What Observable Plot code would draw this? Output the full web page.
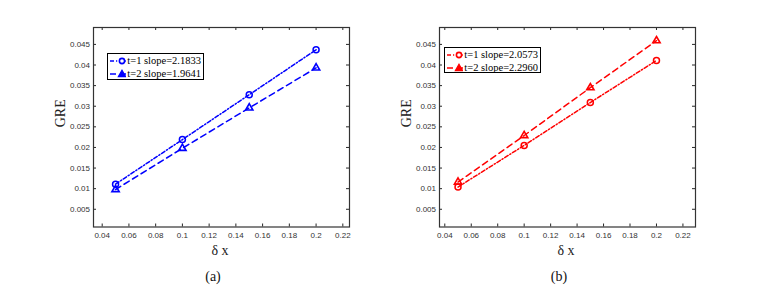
<!DOCTYPE html>
<html>
<head>
<meta charset="utf-8">
<script src="https://cdn.jsdelivr.net/npm/d3@7"></script>
<script src="https://cdn.jsdelivr.net/npm/@observablehq/plot@0.6"></script>
<style>
  html, body { margin: 0; padding: 0; background: #fff; }
  #wrap { position: relative; width: 780px; height: 287px; overflow: hidden; background: #fff; }
  .panel { position: absolute; top: 0; }
  .legend { position: absolute; border: 1px solid #000; background: #fff; box-sizing: border-box;
            font-family: "Liberation Serif", "DejaVu Serif", serif; font-size: 10.5px; color: #000; padding: 1px 2px 1px 1px; line-height: 12px; }
  .legend .row { display: flex; align-items: center; height: 12.5px; white-space: nowrap; }
  .legend svg { display: block; margin-right: 1px; }
</style>
</head>
<body>
<div id="wrap"></div>
<script>
// ---- data ----
const dx = [0.05, 0.1, 0.15, 0.2];
const aT1 = [0.0111, 0.0219, 0.0328, 0.0437];
const aT2 = [0.0098, 0.0198, 0.0296, 0.0393];
const bT1 = [0.0104, 0.0205, 0.0309, 0.0411];
const bT2 = [0.0116, 0.0229, 0.0345, 0.0459];
const legendA = ["t=1 slope=2.1833", "t=2 slope=1.9641"];
const legendB = ["t=1 slope=2.0573", "t=2 slope=2.2960"];
const xTicks = [0.04, 0.06, 0.08, 0.1, 0.12, 0.14, 0.16, 0.18, 0.2, 0.22];
const yTicks = [0.005, 0.01, 0.015, 0.02, 0.025, 0.03, 0.035, 0.04, 0.045];
const panelLabels = ["(a)", "(b)"];
const xLabel = "δ x";
const yLabel = "GRE";

const W = 390, H = 287;
const mL = 93, mR = 41, mT = 27, mB = 60.5;
const fw = W - mL - mR, fh = H - mT - mB;
const fmt = d => String(+d.toFixed(3));
const dash1 = "4,2,1.2,2";   // dash-dot
const dash2 = "6,4";         // dashed
const serif = "Liberation Serif, Times New Roman, serif";

function panel(t1, t2, color, xDomain, tag) {
  const rows = dx.flatMap((x, i) => [
    {x, y: t1[i], s: "t1"},
    {x, y: t2[i], s: "t2"}
  ]);
  const s1 = rows.filter(d => d.s === "t1"), s2 = rows.filter(d => d.s === "t2");
  return Plot.plot({
    width: W, height: H,
    marginLeft: mL, marginRight: mR, marginTop: mT, marginBottom: mB,
    style: {background: "transparent", overflow: "visible"},
    x: {domain: xDomain, axis: null},
    y: {domain: [0.0007, 0.0491], axis: null},
    marks: [
      Plot.lineY(s1, {x: "x", y: "y", stroke: color, strokeWidth: 1.5, strokeDasharray: dash1}),
      Plot.lineY(s2, {x: "x", y: "y", stroke: color, strokeWidth: 1.5, strokeDasharray: dash2}),
      Plot.dot(s1, {x: "x", y: "y", stroke: color, strokeWidth: 1.5, r: 3, symbol: "circle", fill: "none"}),
      Plot.dot(s2, {x: "x", y: "y", stroke: color, strokeWidth: 1.6, r: 2.7, symbol: "triangle", fill: "none"}),
      // inward ticks, mirrored on all sides
      Plot.tickX(xTicks, {x: d => d, stroke: "#262626", insetTop: fh - 3}),
      Plot.tickX(xTicks, {x: d => d, stroke: "#262626", insetBottom: fh - 3}),
      Plot.tickY(yTicks, {y: d => d, stroke: "#262626", insetRight: fw - 3}),
      Plot.tickY(yTicks, {y: d => d, stroke: "#262626", insetLeft: fw - 3}),
      Plot.frame({stroke: "#333", strokeWidth: 1.2}),
      Plot.axisX({ticks: xTicks, tickSize: 0, tickPadding: 5, tickFormat: fmt, fontSize: 8,
                  fontFamily: "Liberation Sans, Arial, sans-serif", color: "#333", label: null}),
      Plot.axisY({ticks: yTicks, tickSize: 0, tickPadding: 3.5, tickFormat: fmt, fontSize: 8,
                  fontFamily: "Liberation Sans, Arial, sans-serif", color: "#333", label: null}),
      Plot.text([xLabel], {text: d => d, frameAnchor: "bottom", dx: -1.5, dy: 23.5, lineAnchor: "middle",
                  fontFamily: serif, fontSize: 14, fill: "#222"}),
      Plot.text([yLabel], {text: d => d, frameAnchor: "left", dx: -33, rotate: -90, lineAnchor: "middle",
                  fontFamily: serif, fontSize: 14, fill: "#222"}),
      Plot.text([tag], {text: d => d, frameAnchor: "bottom", dx: -8.5, dy: 50, lineAnchor: "middle",
                  fontFamily: serif, fontSize: 14, fill: "#111"})
    ]
  });
}

function legend(labels, color, left, top, width, height) {
  const div = document.createElement("div");
  div.className = "legend";
  Object.assign(div.style, {left: left + "px", top: top + "px", width: width + "px", height: height + "px"});
  const ns = "http://www.w3.org/2000/svg";
  labels.forEach((lab, i) => {
    const row = document.createElement("div");
    row.className = "row";
    const svg = document.createElementNS(ns, "svg");
    svg.setAttribute("width", 26); svg.setAttribute("height", 10);
    const line = document.createElementNS(ns, "line");
    line.setAttribute("x1", 1); line.setAttribute("x2", 25);
    line.setAttribute("y1", 5); line.setAttribute("y2", 5);
    line.setAttribute("stroke", color); line.setAttribute("stroke-width", 1.5);
    line.setAttribute("stroke-dasharray", i === 0 ? dash1 : dash2);
    svg.appendChild(line);
    if (i === 0) {
      const c = document.createElementNS(ns, "circle");
      c.setAttribute("cx", 13); c.setAttribute("cy", 5); c.setAttribute("r", 2.6);
      c.setAttribute("fill", "#fff"); c.setAttribute("stroke", color); c.setAttribute("stroke-width", 1.6);
      svg.appendChild(c);
    } else {
      const p = document.createElementNS(ns, "path");
      p.setAttribute("d", d3.symbol(d3.symbolTriangle, 2.7 * 2.7 * Math.PI)());
      p.setAttribute("transform", "translate(13,5.5)");
      p.setAttribute("fill", color); p.setAttribute("stroke", color); p.setAttribute("stroke-width", 1.2);
      svg.appendChild(p);
    }
    row.appendChild(svg);
    const span = document.createElement("span");
    span.textContent = lab;
    row.appendChild(span);
    div.appendChild(row);
  });
  return div;
}

const wrap = document.getElementById("wrap");
const pa = panel(aT1, aT2, "#0000ff", [0.0335, 0.225], panelLabels[0]);
pa.classList.add("panel"); pa.style.left = "0px";
const pb = panel(bT1, bT2, "#ff0000", [0.036, 0.2295], panelLabels[1]);
pb.classList.add("panel"); pb.style.left = "346px";
wrap.appendChild(pa);
wrap.appendChild(pb);
wrap.appendChild(legend(legendA, "#0000ff", 107, 53, 97, 27));
wrap.appendChild(legend(legendB, "#ff0000", 444, 47, 97, 26));
</script>
</body>
</html>
